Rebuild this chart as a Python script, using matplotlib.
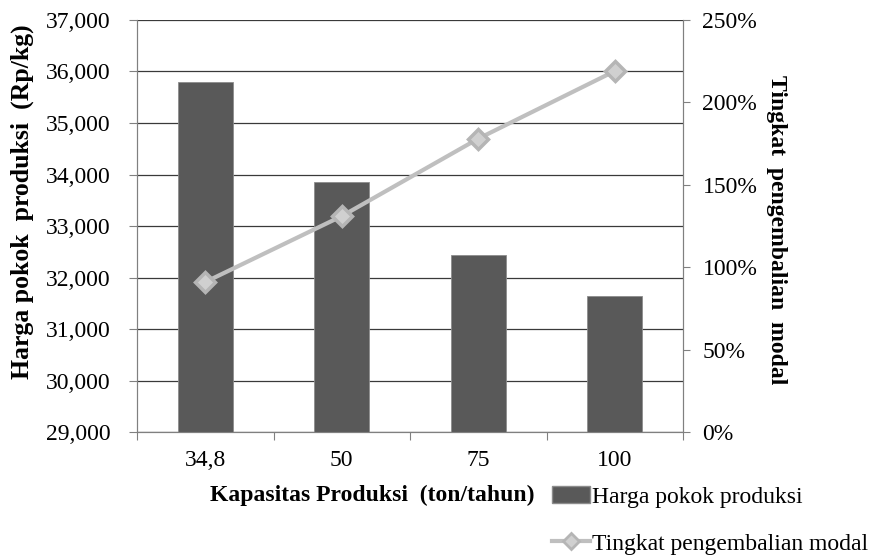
import numpy as np
import matplotlib
matplotlib.use("Agg")
import matplotlib.pyplot as plt
from matplotlib.ticker import FuncFormatter, PercentFormatter
from matplotlib.patches import Patch
from matplotlib.lines import Line2D

plt.rcParams['font.family'] = ['Liberation Serif', 'DejaVu Serif']

# data
kapasitas = ['34,8', '50', '75', '100']
harga_pokok = [35800, 33860, 32430, 31650]          # Rp/kg
pengembalian = [0.91, 1.31, 1.78, 2.19]             # fraction (percent axis)

fig = plt.figure(figsize=(8.75, 5.57), dpi=100)
ax = fig.add_axes([0.1566, 0.2244, 0.6240, 0.7397])

x = np.arange(len(kapasitas))
bar_col = '#595959'
line_col = '#BFBFBF'

ax.bar(x, [v - 29000 for v in harga_pokok], bottom=29000, width=0.4,
       color=bar_col, edgecolor='#8c8c8c', linewidth=0.6, zorder=3)
ax.set_ylim(29000, 37000)
ax.set_xlim(-0.5, 3.5)
ax.set_yticks(np.arange(29000, 37001, 1000))
ax.yaxis.set_major_formatter(FuncFormatter(lambda v, p: f'{int(v):,}'))
ax.grid(axis='y', color='#3a3a3a', linewidth=0.9, zorder=0)
ax.set_axisbelow(True)

# category boundaries as major ticks, labels on minor ticks
ax.set_xticks(np.arange(-0.5, 4.0, 1.0))
ax.set_xticklabels([])
ax.set_xticks(x, minor=True)
ax.set_xticklabels(kapasitas, minor=True)
ax.tick_params(axis='x', which='major', length=6, direction='out', color='#808080')
ax.tick_params(axis='x', which='minor', length=0, pad=13, labelsize=17)
ax.tick_params(axis='y', length=6, direction='out', color='#808080', pad=13, labelsize=17)

for s in ax.spines.values():
    s.set_color('#808080')
ax.spines['top'].set_visible(False)

ax2 = ax.twinx()
ax2.plot(x, pengembalian, color=line_col, linewidth=3, marker='D', markersize=10,
         markerfacecolor='#d0d0d0', markeredgecolor='#b5b5b5', markeredgewidth=2.5, zorder=5)
ax2.set_ylim(0, 2.5)
ax2.set_yticks(np.arange(0, 2.51, 0.5))
ax2.yaxis.set_major_formatter(PercentFormatter(1.0, decimals=0))
ax2.tick_params(axis='y', length=5, direction='out', color='#808080', pad=9, labelsize=17)
for s in ax2.spines.values():
    s.set_color('#808080')
ax2.spines['top'].set_visible(False)

fig.text(0.026, 0.638, 'Harga pokok  produksi  (Rp/kg)', rotation=90, ha='center', va='center',
         fontsize=18.5, fontweight='bold')
fig.text(0.888, 0.587, 'Tingkat  pengembalian  modal', rotation=270, ha='center', va='center',
         fontsize=17, fontweight='bold')
fig.text(0.425, 0.111, 'Kapasitas Produksi  (ton/tahun)', ha='center', va='center',
         fontsize=17, fontweight='bold')

handles = [Patch(facecolor=bar_col, edgecolor='#8c8c8c'),
           Line2D([0], [0], color=line_col, linewidth=3, marker='D', markersize=8,
                  markerfacecolor='#d0d0d0', markeredgecolor='#b5b5b5', markeredgewidth=2)]
fig.legend(handles, ['Harga pokok produksi', 'Tingkat pengembalian modal'],
           loc='upper left', bbox_to_anchor=(0.631, 0.127), frameon=False,
           fontsize=17, handlelength=1.6, handletextpad=0.1, labelspacing=1.07,
           borderpad=0, borderaxespad=0)

fig.savefig('out.png', dpi=100)
